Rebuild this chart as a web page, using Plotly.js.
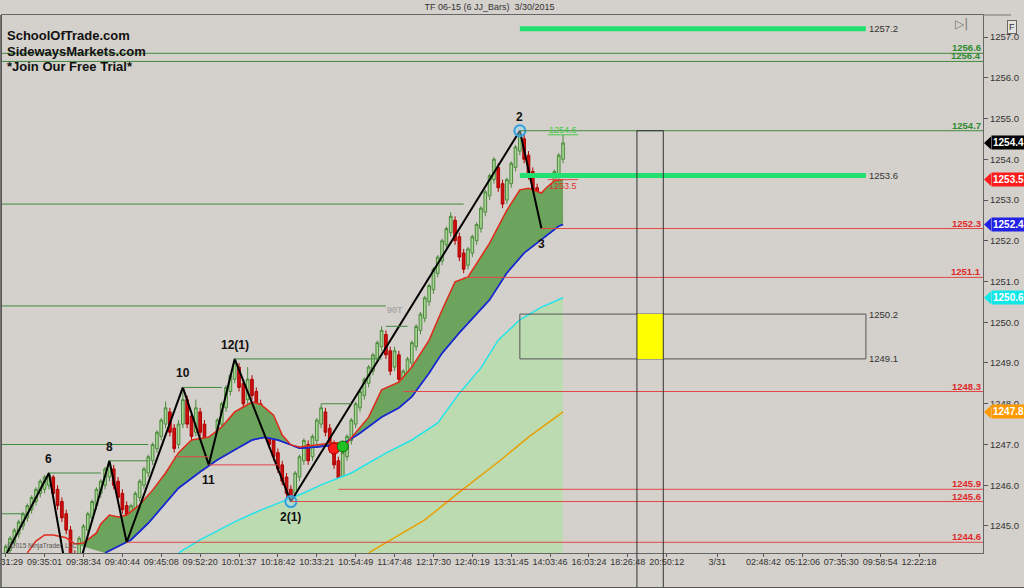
<!DOCTYPE html>
<html><head><meta charset="utf-8">
<script src="https://cdn.plot.ly/plotly-3.0.1.min.js"></script>
<style>html,body{margin:0;padding:0;background:#d4d0cb}#chart{width:1024px;height:588px}</style>
</head><body><div id="chart"></div>
<script>
// ---------- DATA ----------
const barOpen = [1244.2,1244.4,1244.6,1244.8,1245.0,1245.2,1245.4,1245.6,1245.8,1245.9,
1246.0,1246.2,1245.9,1245.6,1245.3,1244.9,1244.3,1244.1,1244.6,1244.9,
1245.2,1245.5,1245.8,1246.0,1246.2,1246.4,1246.1,1245.8,1245.5,1245.1,
1245.4,1245.7,1246.0,1246.3,1246.6,1246.9,1247.2,1247.5,1247.8,1247.4,
1247.0,1247.5,1248.1,1247.7,1247.3,1247.8,1247.5,1247.1,1246.7,1247.1,
1247.5,1247.9,1248.3,1248.6,1248.9,1248.5,1248.1,1248.6,1248.3,1248.0,
1247.7,1247.4,1247.1,1246.8,1246.5,1246.2,1245.9,1245.8,1246.2,1246.6,
1247.0,1246.7,1247.1,1247.5,1247.8,1247.4,1247.0,1246.6,1246.2,1246.7,
1247.1,1247.5,1247.9,1248.2,1248.5,1248.8,1249.1,1249.4,1249.7,1249.3,
1248.9,1249.2,1248.4,1248.7,1249.0,1249.4,1249.8,1250.1,1250.5,1250.8,
1251.2,1251.5,1251.9,1252.2,1252.5,1252.1,1251.7,1251.4,1251.7,1252.0,
1252.3,1252.7,1253.1,1253.5,1253.8,1253.4,1253.0,1253.4,1253.8,1254.2,
1254.5,1254.1,1253.7,1253.3,1252.9,1252.5,1252.8,1253.2,1253.6,1254.0];
const barHigh = [1244.55,1244.75,1244.95,1245.15,1245.35,1245.55,1245.75,1245.95,1246.15,1246.25,
1246.3,1246.25,1246.0,1245.7,1245.4,1245.0,1244.4,1244.75,1245.05,1245.35,
1245.65,1245.95,1246.15,1246.45,1246.6,1246.5,1246.2,1245.9,1245.6,1245.55,
1245.85,1246.15,1246.45,1246.75,1247.05,1247.35,1247.65,1248.05,1247.9,1247.5,
1247.6,1248.4,1248.2,1247.8,1248.1,1247.9,1247.6,1247.2,1247.25,1247.65,
1248.05,1248.45,1248.75,1249.1,1249.0,1248.6,1248.9,1248.7,1248.4,1248.1,
1247.8,1247.5,1247.2,1246.9,1246.6,1246.3,1246.0,1246.35,1246.75,1247.15,
1247.1,1247.25,1247.65,1248.0,1247.9,1247.5,1247.1,1246.7,1246.85,1247.25,
1247.65,1248.05,1248.35,1248.65,1248.95,1249.25,1249.55,1249.9,1249.8,1249.4,
1249.4,1249.3,1248.85,1249.15,1249.55,1249.95,1250.25,1250.65,1250.95,1251.35,
1251.65,1252.05,1252.35,1252.7,1252.6,1252.2,1251.8,1251.85,1252.15,1252.45,
1252.85,1253.25,1253.65,1254.05,1253.9,1253.5,1253.55,1253.95,1254.35,1254.7,
1254.6,1254.2,1253.8,1253.4,1253.0,1252.95,1253.35,1253.75,1254.15,1254.6];
const barLow = [1244.1,1244.3,1244.5,1244.7,1244.9,1245.1,1245.3,1245.5,1245.7,1245.8,
1245.9,1245.7,1245.4,1245.1,1244.8,1243.3,1243.9,1244.0,1244.5,1244.8,
1245.1,1245.4,1245.7,1245.9,1246.1,1245.9,1245.6,1245.3,1244.6,1245.0,
1245.3,1245.6,1245.9,1246.2,1246.5,1246.8,1247.1,1247.4,1247.2,1246.8,
1246.9,1247.4,1247.4,1247.1,1247.2,1247.2,1246.9,1246.5,1246.6,1247.0,
1247.4,1247.8,1248.2,1248.5,1248.3,1247.9,1247.6,1248.1,1247.8,1247.5,
1247.2,1246.9,1246.6,1246.3,1246.0,1245.7,1245.6,1245.7,1246.1,1246.5,
1246.5,1246.6,1247.0,1247.4,1247.2,1246.8,1246.4,1245.9,1246.1,1246.6,
1247.0,1247.4,1247.8,1248.1,1248.4,1248.7,1249.0,1249.3,1249.1,1248.7,
1248.8,1248.5,1248.3,1248.6,1248.9,1249.3,1249.7,1250.0,1250.4,1250.7,
1251.1,1251.4,1251.8,1252.1,1251.9,1251.5,1251.2,1251.3,1251.6,1251.9,
1252.2,1252.6,1253.0,1253.4,1253.2,1252.8,1252.9,1253.3,1253.7,1254.1,
1253.9,1253.5,1253.1,1252.7,1252.3,1252.4,1252.7,1253.1,1253.5,1253.9];
const barClose = [1244.5,1244.7,1244.9,1245.1,1245.3,1245.5,1245.7,1245.9,1246.1,1246.2,
1246.25,1245.8,1245.5,1245.2,1244.9,1244.2,1244.0,1244.7,1245.0,1245.3,
1245.6,1245.9,1246.1,1246.4,1246.5,1246.0,1245.7,1245.4,1245.0,1245.5,
1245.8,1246.1,1246.4,1246.7,1247.0,1247.3,1247.6,1247.9,1247.3,1246.9,
1247.5,1248.1,1247.5,1247.2,1247.9,1247.3,1247.0,1246.7,1247.2,1247.6,
1248.0,1248.4,1248.7,1249.0,1248.4,1248.0,1248.6,1248.2,1247.9,1247.6,
1247.3,1247.0,1246.7,1246.4,1246.1,1245.8,1245.7,1246.3,1246.7,1247.1,
1246.6,1247.2,1247.6,1247.9,1247.3,1246.9,1246.5,1246.1,1246.8,1247.2,
1247.6,1248.0,1248.3,1248.6,1248.9,1249.2,1249.5,1249.8,1249.2,1248.8,
1249.3,1248.6,1248.8,1249.1,1249.5,1249.9,1250.2,1250.6,1250.9,1251.3,
1251.6,1252.0,1252.3,1252.6,1252.0,1251.6,1251.3,1251.8,1252.1,1252.4,
1252.8,1253.2,1253.6,1254.0,1253.3,1252.9,1253.5,1253.9,1254.3,1254.6,
1254.0,1253.6,1253.2,1252.8,1252.4,1252.9,1253.3,1253.7,1254.1,1254.4];

// moving averages (bar index, price)
const redX = [5,7,9,11,14,16,18,21,22,24,26,28,31,34,37,40,43,47,50,53,55,57,59,62,64,66,68,72,76,79,84,87,91,94,98,101,104,107,112,116,119,121,124,125,127,129];
const redY = [1244.34,1244.63,1244.78,1244.78,1244.71,1244.56,1244.58,1244.83,1245.05,1245.27,1245.22,1245.27,1245.52,1245.88,1246.30,1246.80,1247.11,1247.18,1247.43,1247.80,1247.92,1248.04,1247.99,1247.72,1247.23,1246.99,1246.94,1246.99,1247.04,1247.04,1247.67,1248.34,1248.53,1248.90,1249.56,1250.30,1250.99,1251.11,1251.94,1252.75,1253.25,1253.29,1253.17,1253.29,1253.47,1253.50];
const blueX = [23,26,29,33,37,40,45,49,53,57,60,63,66,68,72,76,77,82,87,91,94,98,101,105,112,116,120,124,128,129];
const blueY = [1244.34,1244.51,1244.66,1245.07,1245.56,1245.93,1246.33,1246.62,1246.87,1247.11,1247.18,1247.11,1246.99,1246.91,1246.94,1246.99,1246.94,1247.28,1247.67,1247.90,1248.17,1248.75,1249.24,1249.74,1250.55,1251.21,1251.70,1252.02,1252.36,1252.40];
const cyanX = [40,45,53,59,65,69,73,80,88,94,100,105,110,114,119,124,129];
const cyanY = [1244.34,1244.66,1245.10,1245.39,1245.64,1245.81,1246.01,1246.30,1246.79,1247.11,1247.53,1248.26,1248.88,1249.56,1250.06,1250.37,1250.60];
const orangeX = [84,97,105,114,121,129];
const orangeY = [1244.34,1245.15,1245.83,1246.57,1247.18,1247.80];

// swing zigzag
const zigX = [0,10,15,24,28,41,47,53,66,119,124];
const zigY = [1244.28,1246.3,1243.3,1246.6,1244.6,1248.4,1246.5,1249.1,1245.6,1254.7,1252.3];
const pivotX = [10,24,41,47,53,66,119,124];
const pivotY = [1246.3,1246.6,1248.4,1246.5,1249.1,1245.6,1254.7,1252.3];
const pivotText = ['6','8','10','11','12(1)','2(1)','2','3'];
const pivotUp = [true,true,true,false,true,false,true,false];
const ringX = [66,119];
const ringY = [1245.6,1254.7];
const sigRedX = [76], sigRedY = [1246.9];
const sigGreenX = [78], sigGreenY = [1246.95];

// x tick labels
const tickIdx = [0,9,18,27,36,45,54,63,72,81,90,99,108,117,126,135,144,153,164.7,175.4,184.4,193.4,202.4,211.4];
const tickLbl = ['09:31:29','09:35:01','09:38:34','09:40:44','09:45:08','09:52:20','10:01:37','10:18:42','10:33:21','10:54:49','11:47:48','12:17:30','12:40:19','13:31:45','14:03:46','16:03:24','18:26:48','20:50:12','3/31','02:48:42','05:12:06','07:35:30','09:58:54','12:22:18'];

// levels
const X_MIN = -0.86, X_MAX = 226.2, Y_MIN = 1244.337, Y_MAX = 1257.54;
const greenLvl  = [1256.6,1256.4,1254.7,1252.9,1250.4,1249.1,1248.4,1247.0,1246.6,1246.3,1245.3,1248.0,1249.9];
const greenFrom = [X_MIN,X_MIN,119,X_MIN,X_MIN,53,41,X_MIN,24,10,X_MIN,73,88];
const greenTo   = [X_MAX,X_MAX,X_MAX,106,88,87,50,33,33,22,4,80,93];
const greenLabeled = [1256.6,1256.4,1254.7];
const redLvl  = [1252.3,1251.1,1248.3,1245.9,1245.6,1244.6,1246.7,1246.5];
const redFrom = [124,106,92,77,66,28,39,47];
const redTo   = [X_MAX,X_MAX,X_MAX,X_MAX,X_MAX,X_MAX,47,63];
const redLabeled = [1252.3,1251.1,1248.3,1245.9,1245.6,1244.6];
const projLvl = [1257.2,1253.6];
const projStart = 119, projEnd = 199.1;
const zoneHigh = 1250.2, zoneLow = 1249.1;
const timeBoxStart = 146.1, timeBoxEnd = 152.2, timeBoxTop = 1254.7;
const tagVal = [1254.4,1253.5,1252.4,1250.6,1247.8];
const tagCol = ['#000000','#ff1c1c','#2222e6','#10e8e8','#ff9a00'];
const tagTxt = ['#ffffff','#ffffff','#ffffff','#ffffff','#ffffff'];

// ---------- PLOT ----------
const FONT = 'Arial, "Liberation Sans", sans-serif';
const idx = barOpen.map((_, i) => i);
const redFillX = redX.filter(v => v >= 16);
const redFillY = redY.filter((_, i) => redX[i] >= 16);

const traces = [
  {x: cyanX, y: cyanY, type:'scatter', mode:'lines', fill:'tozeroy', fillcolor:'#bddbb1', line:{width:0}, hoverinfo:'skip'},
  {x: blueX, y: blueY, type:'scatter', mode:'lines', line:{color:'#1a2ad0', width:1.5}, hoverinfo:'skip'},
  {x: redFillX, y: redFillY, type:'scatter', mode:'lines', fill:'tonexty', fillcolor:'#6ca35d', line:{width:0}, hoverinfo:'skip'},
  {x: blueX, y: blueY, type:'scatter', mode:'lines', line:{color:'#1a2ad0', width:1.5}, hoverinfo:'skip'},
  {x: redX, y: redY, type:'scatter', mode:'lines', line:{color:'#e02a1a', width:1.5}, hoverinfo:'skip'},
  {x: cyanX, y: cyanY, type:'scatter', mode:'lines', line:{color:'#22e4ea', width:1.5}, hoverinfo:'skip'},
  {x: orangeX, y: orangeY, type:'scatter', mode:'lines', line:{color:'#e8a000', width:1.5}, hoverinfo:'skip'},
  {x: idx, open: barOpen, high: barHigh, low: barLow, close: barClose, type:'candlestick',
   increasing:{fillcolor:'#a9d597', line:{color:'#4b8a3b', width:1}},
   decreasing:{fillcolor:'#cc1010', line:{color:'#b00000', width:1}},
   whiskerwidth:0, hoverinfo:'skip'},
  {x: zigX, y: zigY, xaxis:'x2', yaxis:'y2', type:'scatter', mode:'lines', line:{color:'#000', width:2}, hoverinfo:'skip'},
  {x: ringX, y: ringY, xaxis:'x2', yaxis:'y2', type:'scatter', mode:'markers', marker:{size:11, color:'rgba(160,215,245,0.45)', line:{color:'#2fa0e0', width:2}}, hoverinfo:'skip'},
  {x: sigRedX, y: sigRedY, xaxis:'x2', yaxis:'y2', type:'scatter', mode:'markers', marker:{size:11, color:'#ff1a1a', line:{color:'#a00000', width:1}}, hoverinfo:'skip'},
  {x: sigGreenX, y: sigGreenY, xaxis:'x2', yaxis:'y2', type:'scatter', mode:'markers', marker:{size:11, color:'#22c022', line:{color:'#0a6a0a', width:1}}, hoverinfo:'skip'}
];

const shapes = [];
greenLvl.forEach((v,i)=>shapes.push({type:'line', xref:'x', yref:'y', x0:greenFrom[i], x1:greenTo[i], y0:v, y1:v, line:{color:'#3f8a3f', width:1}, layer:'above'}));
redLvl.forEach((v,i)=>shapes.push({type:'line', xref:'x', yref:'y', x0:redFrom[i], x1:redTo[i], y0:v, y1:v, line:{color:'#e04848', width:1}, layer:'above'}));
projLvl.forEach(v=>shapes.push({type:'line', xref:'x', yref:'y', x0:projStart, x1:projEnd, y0:v, y1:v, line:{color:'#22e070', width:5}, layer:'above'}));
shapes.push({type:'rect', xref:'x', yref:'y', x0:projStart, x1:projEnd, y0:zoneLow, y1:zoneHigh, line:{color:'#555', width:1}, layer:'above'});
const pY = v => (v - Y_MIN) / (Y_MAX - Y_MIN);
const pXi = v => (v - X_MIN) / (X_MAX - X_MIN);
const bottomPaper = -35/538;
shapes.push({type:'rect', xref:'x', yref:'y', x0:timeBoxStart, x1:timeBoxEnd, y0:zoneLow, y1:zoneHigh, fillcolor:'#ffff00', line:{width:0}, layer:'above'});
shapes.push({type:'line', xref:'x', yref:'y', x0:timeBoxStart, x1:timeBoxEnd, y0:timeBoxTop, y1:timeBoxTop, line:{color:'#333', width:1}, layer:'above'});
[timeBoxStart, timeBoxEnd].forEach(x=>shapes.push({type:'line', xref:'paper', yref:'paper', x0:pXi(x), x1:pXi(x), y0:bottomPaper, y1:pY(timeBoxTop), line:{color:'#333', width:1}, layer:'above'}));
// small projection ticks near last bar
shapes.push({type:'line', xref:'x', yref:'y', x0:125.5, x1:132.5, y0:1254.6, y1:1254.6, line:{color:'#44cc44', width:1}, layer:'above'});
shapes.push({type:'line', xref:'x', yref:'y', x0:125.5, x1:132.5, y0:1253.5, y1:1253.5, line:{color:'#e04848', width:1}, layer:'above'});
// frame
const pxX = px => (px - 2) / 981;
shapes.push({type:'line', xref:'paper', yref:'paper', x0:pxX(0), x1:pxX(1024), y0:bottomPaper, y1:bottomPaper, line:{color:'#555', width:2}});
shapes.push({type:'line', xref:'paper', yref:'paper', x0:pxX(1), x1:pxX(1), y0:bottomPaper, y1:1, line:{color:'#555', width:1.5}});
shapes.push({type:'line', xref:'paper', yref:'paper', x0:1, x1:pxX(1011), y0:1, y1:1, line:{color:'#777', width:1}});
// axis tags (arrow heads)
tagVal.forEach((v,i)=>{
  const h = 6.5/40.75;
  shapes.push({type:'path', xref:'paper', yref:'y', path:`M ${pxX(984)} ${v} L ${pxX(991)} ${v+h} L ${pxX(991)} ${v-h} Z`, fillcolor:tagCol[i], line:{width:0}});
});

const annotations = [];
pivotX.forEach((x,i)=>annotations.push({x, y:pivotY[i], xref:'x', yref:'y', text:'<b>'+pivotText[i]+'</b>', showarrow:false, yshift: pivotUp[i]?14:-15, font:{size:12, color:'#111', family:FONT}}));
greenLabeled.forEach(v=>annotations.push({x:1, y:v, xref:'paper', yref:'y', xanchor:'right', yanchor:'bottom', xshift:-1, yshift:-1, borderpad:0, text:'<b>'+v.toFixed(1)+'</b>', showarrow:false, font:{size:9.5, color:'#2e8a2e', family:FONT}}));
redLabeled.forEach(v=>annotations.push({x:1, y:v, xref:'paper', yref:'y', xanchor:'right', yanchor:'bottom', xshift:-1, yshift:-1, borderpad:0, text:'<b>'+v.toFixed(1)+'</b>', showarrow:false, font:{size:9.5, color:'#e02828', family:FONT}}));
projLvl.concat([zoneHigh, zoneLow]).forEach(v=>annotations.push({x:projEnd, y:v, xref:'x', yref:'y', xanchor:'left', xshift:1, text:v.toFixed(1), showarrow:false, font:{size:9.5, color:'#333', family:FONT}}));
annotations.push({x:129, y:1254.6, xref:'x', yref:'y', yanchor:'bottom', yshift:-2, text:'1254.6', showarrow:false, font:{size:9, color:'#44cc44', family:FONT}});
annotations.push({x:129, y:1253.5, xref:'x', yref:'y', yanchor:'top', yshift:1, text:'1253.5', showarrow:false, font:{size:9, color:'#e03030', family:FONT}});
annotations.push({x:90, y:1250.3, xref:'x', yref:'y', text:'<b>90T</b>', showarrow:false, font:{size:9, color:'#a8a8a8', family:FONT}});
tagVal.forEach((v,i)=>annotations.push({x:pxX(991), y:v, xref:'paper', yref:'y', xanchor:'left', yanchor:'middle', text:'<b>'+v.toFixed(1)+'</b>', showarrow:false, bgcolor:tagCol[i], borderpad:1, font:{size:10, color:tagTxt[i], family:FONT}}));
[['SchoolOfTrade.com',36],['SidewaysMarkets.com',51],['*Join Our Free Trial*',66]].forEach(([t,py])=>annotations.push({x:0, y:1-(py-15)/538, xref:'paper', yref:'paper', xanchor:'left', yanchor:'middle', xshift:3, text:'<b>'+t+'</b>', showarrow:false, font:{size:13, color:'#111', family:FONT}}));
annotations.push({x:0, y:0, xref:'paper', yref:'paper', xanchor:'left', yanchor:'bottom', xshift:3, yshift:1, text:'©2015 NinjaTrader, LLC', showarrow:false, font:{size:6.5, color:'#555', family:FONT}});
annotations.push({x:pxX(970), y:1-(24-15)/538, xref:'paper', yref:'paper', yanchor:'middle', text:'▷|', showarrow:false, font:{size:12, color:'#777', family:'DejaVu Sans'}});
annotations.push({x:pxX(1017), y:1-(20-15)/538, xref:'paper', yref:'paper', text:'F', showarrow:false, bordercolor:'#666', borderwidth:1, borderpad:1, bgcolor:'#e4e2de', font:{size:9, color:'#333', family:FONT}});
// first x label, partly cut by the window edge (Plotly hides it otherwise)
annotations.push({x:tickIdx[0], y:0, xref:'x', yref:'paper', yanchor:'middle', yshift:-9, text:tickLbl[0], showarrow:false, font:{size:9, color:'#333', family:FONT}});

const layout = {
  width:1024, height:588,
  margin:{l:2, r:41, t:15, b:35, pad:0},
  paper_bgcolor:'#d4d0cb', plot_bgcolor:'#d4d0cb',
  showlegend:false, boxgap:0.12,
  font:{family:FONT, size:9, color:'#333'},
  title:{text:'TF 06-15 (6 JJ_Bars)  3/30/2015', font:{size:9, color:'#333', family:FONT}, xref:'container', x:0.478, xanchor:'center', yref:'container', y:1-7/588, yanchor:'middle'},
  xaxis:{range:[X_MIN,X_MAX], tickmode:'array', tickvals:tickIdx, ticktext:tickLbl, tickangle:0, ticks:'outside', ticklen:3, tickcolor:'#555', ticklabelstandoff:-3,
         showline:true, linecolor:'#666', mirror:true, showgrid:false, zeroline:false, tickfont:{size:9, color:'#333'}, rangeslider:{visible:false}, fixedrange:true},
  yaxis:{side:'right', range:[Y_MIN,Y_MAX], tickmode:'linear', tick0:1245, dtick:1, tickformat:'.1f', ticks:'outside', ticklen:4, tickcolor:'#555',
         showline:true, linecolor:'#666', mirror:true, showgrid:false, zeroline:false, tickfont:{size:9.5, color:'#333'}, fixedrange:true},
  xaxis2:{overlaying:'x', anchor:'y2', range:[X_MIN,X_MAX], visible:false, fixedrange:true},
  yaxis2:{overlaying:'y', anchor:'x2', range:[Y_MIN,Y_MAX], visible:false, fixedrange:true},
  shapes, annotations
};
Plotly.newPlot('chart', traces, layout, {displayModeBar:false, staticPlot:true});
</script></body></html>
